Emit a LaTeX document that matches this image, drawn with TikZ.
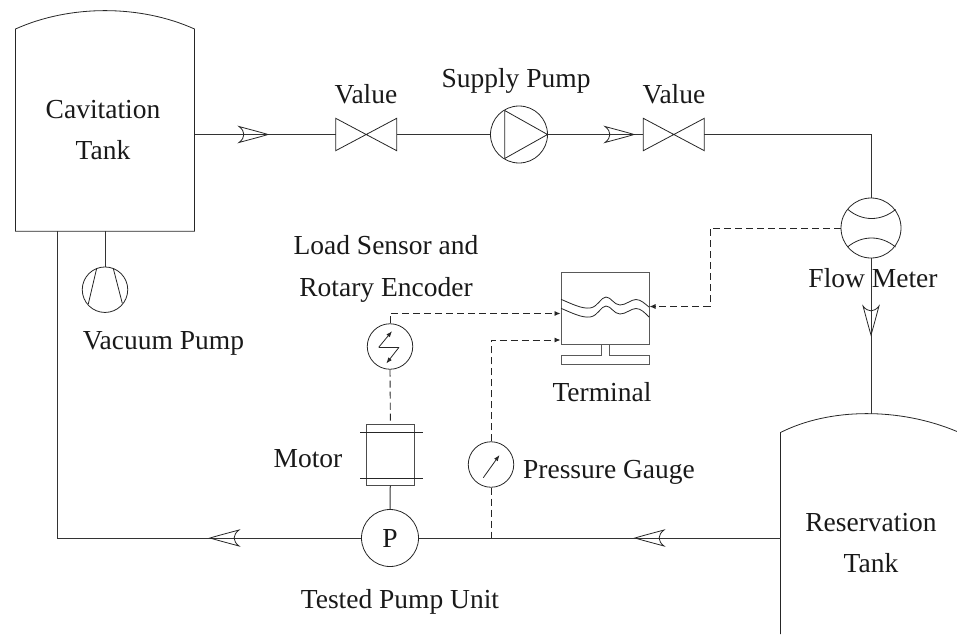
\documentclass[tikz,border=0pt]{standalone}
\usepackage{fontspec}
\setmainfont{Liberation Serif}
\tikzset{
  x=1pt,y=-1pt,
  pipe/.style={draw=black!80,line width=1pt},
  sig/.style={draw=black!85,line width=0.9pt,dash pattern=on 7pt off 4pt},
  sym/.style={draw=black!85,line width=0.8pt},
  disc/.style={circle,draw=black!85,line width=0.8pt,minimum size=#1,inner sep=0pt},
  lab/.style={font=\fontsize{27.5}{30}\selectfont,text=black!90,inner sep=0pt,anchor=base},
  pt/.style={inner sep=0pt,minimum size=0pt},
}
\newcommand{\flowtip}[2]{% (tip) rotation
  \draw[sym,shift={(#1)},rotate=#2] (0,0) .. controls (-10,-3) and (-20,-5.5) .. (-29,-8) .. controls (-22.5,-3) and (-22.5,3) .. (-29,8) .. controls (-20,5.5) and (-10,3) .. (0,0) -- cycle;}
\newcommand{\valvesym}[2]{% centre, name
  \coordinate (#2L) at ($(#1)+(-30.5,0)$);
  \coordinate (#2R) at ($(#1)+(30.5,0)$);
  \draw[sym,fill=white] ($(#1)+(-30.5,-16.2)$) -- ($(#1)+(30.5,16.2)$) -- ($(#1)+(30.5,-16.2)$) -- ($(#1)+(-30.5,16.2)$) -- cycle;}
\usetikzlibrary{calc,arrows.meta}
\begin{document}
\begin{tikzpicture}
\useasboundingbox (0,0) rectangle (957,634);
% anchors
\coordinate (cavL) at (15.5,29); \coordinate (cavR) at (194.5,29);
\coordinate (cavBL) at (15.5,231.3); \coordinate (cavBR) at (194.5,231.3);
\coordinate (cavOut) at (194.5,134.5);
\coordinate (cavDrain) at (57,231.3);
\coordinate (cavVac) at (105,231.3);
\coordinate (corner1) at (57,538);
\coordinate (corner2) at (871,134.5);
\coordinate (resTop) at (871,413.5);
\coordinate (resIn) at (780.5,538);
\coordinate (tee) at (491,538);
% nodes
\node[disc=57pt] (supply) at (519,134.5) {};
\node[disc=60pt] (flow) at (871,228) {};
\node[disc=57pt] (tested) at (390,538) {};
\node[disc=45.5pt] (vac) at (105,289.7) {};
\node[disc=45.5pt] (sensor) at (390,346.5) {};
\node[disc=45.5pt] (gauge) at (491,464.5) {};
\node[draw=black!70,line width=0.9pt,minimum width=47.5pt,minimum height=61pt,inner sep=0pt] (motor) at (390.4,454.6) {};
\node[draw=black!65,line width=1pt,minimum width=88pt,minimum height=72.5pt,inner sep=0pt] (term) at (605,308.3) {};
\coordinate (v1) at (366.2,134.5);
\coordinate (v2) at (673.8,134.5);
% tanks
\draw[sym,line width=0.8pt] (cavBL) -- (cavL) .. controls (70,4.5) and (140,4.5) .. (cavR) -- (cavBR) -- cycle;
\draw[sym,line width=0.8pt] (780.5,634) -- (780.5,432.5) .. controls (830,407.5) and (900,407.5) .. (957,431.5);
% main pipes
\valvesym{v1}{va}
\valvesym{v2}{vb}
\draw[pipe] (cavOut) -- (vaL);
\draw[pipe] (vaR) -- (supply);
\draw[pipe] (supply) -- (vbL);
\draw[pipe] (vbR) -- (corner2) -- (flow);
\draw[pipe] (flow) -- (resTop);
\draw[pipe] (resIn) -- (tested);
\draw[pipe] (tested) -- (corner1) -- (cavDrain);
\draw[pipe] (cavVac) -- (vac);
\draw[pipe] (motor) -- (tested);
% flow tips
\flowtip{268,134.5}{0}
\flowtip{634,134.5}{0}
\flowtip{871,335}{-90}
\flowtip{635,538}{180}
\flowtip{210,538}{180}
% supply pump triangle
\draw[sym] (504.7,110.5) -- (547.5,134.5) -- (504.7,158.5) -- cycle;
% flow meter arcs
\draw[sym] (848,209.5) .. controls (862,221.5) and (881,221.5) .. (895.5,209.5);
\draw[sym] (847.5,247) .. controls (862,235) and (881,235) .. (895.5,247);
% vacuum pump
\draw[sym] (96.7,268.3) -- (88.3,304);
\draw[sym] (113.3,268.5) -- (122.3,303.3);
% tested pump
\node[lab,anchor=center] at (tested) {P};
% motor bars
\draw[sym] (360,432.5) -- (423,432.5);
\draw[sym] (360,478.5) -- (423,478.5);
% sensor symbol
\draw[sym,-{Latex[length=6pt,width=4.5pt]}] (378.7,347.3) -- (392,331.2);
\draw[sym,-{Latex[length=6pt,width=4.5pt]}] (399,347.3) -- (386.3,363.5);
\draw[sym] (378.7,347.3) -- (399,347.3);
% gauge needle
\draw[sym,-{Latex[length=6pt,width=4.5pt]}] (483.3,477.7) -- (499.5,455);
% terminal
\draw[draw=black!65,line width=1pt] (601.3,344.5) -- (601.3,355.7) -- (561,355.7) -- (561,364) -- (649,364) -- (649,355.7) -- (609.3,355.7) -- (609.3,344.5);
\draw[sym] (561,299.3) .. controls (572,304) and (582,309) .. (590,308) .. controls (598,307) and (601,297) .. (606,297) .. controls (611,297) and (614,305) .. (620,305) .. controls (626,305) and (631,299.5) .. (636,299.5) .. controls (641,299.5) and (645,304) .. (649,307);
\draw[sym] (561,308.3) .. controls (572,313) and (582,318) .. (590,317) .. controls (598,316) and (601,306) .. (606,306) .. controls (611,306) and (614,314) .. (620,314) .. controls (626,314) and (631,308.5) .. (636,308.5) .. controls (641,308.5) and (645,313) .. (649,317);
% signals
\coordinate (s1) at (710,228); \coordinate (s2) at (710,306.5);
\coordinate (s3) at (390,313.5); \coordinate (s4) at (491,340);
\draw[sig,-{Latex[length=6pt,width=5pt]}] (flow.west) -- (s1) -- (s2) -- (term.east |- s2);
\draw[sig,-{Latex[length=6pt,width=5pt]}] (sensor.north) -- (s3) -- (term.west |- s3);
\draw[sig,-{Latex[length=6pt,width=5pt]}] (gauge.north) -- (s4) -- (term.west |- s4);
\draw[sig] (sensor.south) -- (motor.north);
\draw[sig] (gauge.south) -- (tee);
% labels
\node[lab] at (103,118) {Cavitation};
\node[lab] at (103,159) {Tank};
\node[lab] at (366,103) {Value};
\node[lab] at (516,87) {Supply Pump};
\node[lab] at (674,103) {Value};
\node[lab] at (873,287) {Flow Meter};
\node[lab] at (386,254) {Load Sensor and};
\node[lab] at (386,296) {Rotary Encoder};
\node[lab] at (163.5,349) {Vacuum Pump};
\node[lab] at (602,401) {Terminal};
\node[lab] at (308,467) {Motor};
\node[lab] at (609,478) {Pressure Gauge};
\node[lab] at (400,608) {Tested Pump Unit};
\node[lab] at (871,531) {Reservation};
\node[lab] at (871,572) {Tank};
\end{tikzpicture}
\end{document}
